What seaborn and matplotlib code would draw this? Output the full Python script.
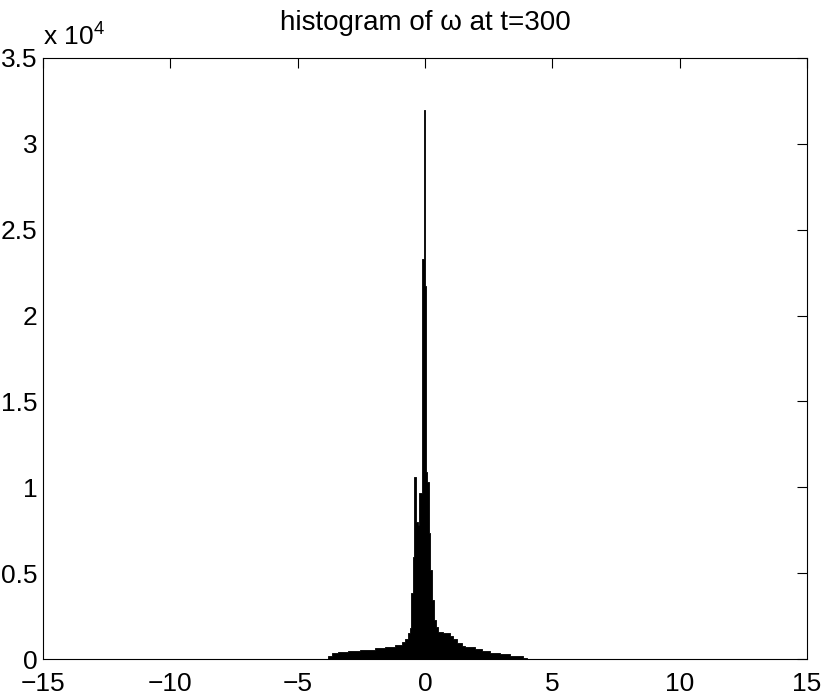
import numpy as np
import pandas as pd
import matplotlib
matplotlib.use("Agg")
import matplotlib.pyplot as plt
import seaborn as sns

# bin edges (vorticity omega) and counts
bin_edges = [-3.82, -3.64, -3.40, -3.01, -2.55, -1.96, -1.57, -1.18, -0.91,
             -0.79, -0.68, -0.59, -0.55, -0.47, -0.43, -0.37, -0.29, -0.24,
             -0.13, -0.11, -0.04, 0.00, 0.05, 0.09, 0.16, 0.21, 0.26, 0.34,
             0.44, 0.52, 0.72, 0.98, 1.11, 1.24, 1.44, 1.57, 1.96, 2.23,
             2.55, 2.94, 3.34, 3.86, 4.00]
bin_counts = [200, 350, 390, 466, 542, 621, 700, 815, 970,
              1150, 1500, 1800, 3840, 5960, 10600, 8000, 7800, 9650,
              11000, 23300, 32000, 21700, 10900, 10300, 7340, 5180, 3440,
              2270, 1880, 1550, 1500, 1360, 1165, 910, 777, 700, 602,
              485, 369, 272, 155, 40]

x_ticks = [-15, -10, -5, 0, 5, 10, 15]
y_ticks = [0, 5000, 10000, 15000, 20000, 25000, 30000, 35000]

sns.set_theme(style="white")
plt.rcParams["font.family"] = ["Liberation Sans", "DejaVu Sans"]
plt.rcParams["mathtext.default"] = "regular"
plt.rcParams["text.color"] = "black"

edges = np.array(bin_edges)
hist_df = pd.DataFrame({
    "omega": (edges[:-1] + edges[1:]) / 2,
    "count": bin_counts,
})

fig = plt.figure(figsize=(8.3, 6.97), dpi=100)
ax = fig.add_axes([0.0518, 0.0545, 0.9205, 0.8623])

# one filled outline -> no white seams between neighbouring bins
sns.histplot(data=hist_df, x="omega", weights="count", bins=bin_edges,
             element="step", fill=True, color="black", alpha=1,
             edgecolor="black", linewidth=0.6, ax=ax)

ax.set_xlim(-15, 15)
ax.set_ylim(0, 35000)
ax.set_xticks(x_ticks)
ax.set_yticks(y_ticks)
ax.set_xticklabels([f"{t:g}".replace("-", "\u2212") for t in x_ticks])
ax.set_yticklabels([f"{t / 1e4:g}" for t in y_ticks])
ax.set_xlabel("")
ax.set_ylabel("")
ax.tick_params(direction="in", length=7, width=0.8, labelsize=19,
               top=True, right=True, colors="black")
ax.tick_params(axis="x", pad=9)
ax.tick_params(axis="y", pad=4)
for s in ax.spines.values():
    s.set_color("black")
    s.set_linewidth(0.8)

ax.set_title("histogram of \u03c9 at t=300", fontsize=20, pad=20, color="black")
ax.text(0.0, 1.02, "x 10$^4$", transform=ax.transAxes, fontsize=19,
        ha="left", va="baseline", color="black")

fig.savefig("out.png", dpi=100, facecolor="white")
